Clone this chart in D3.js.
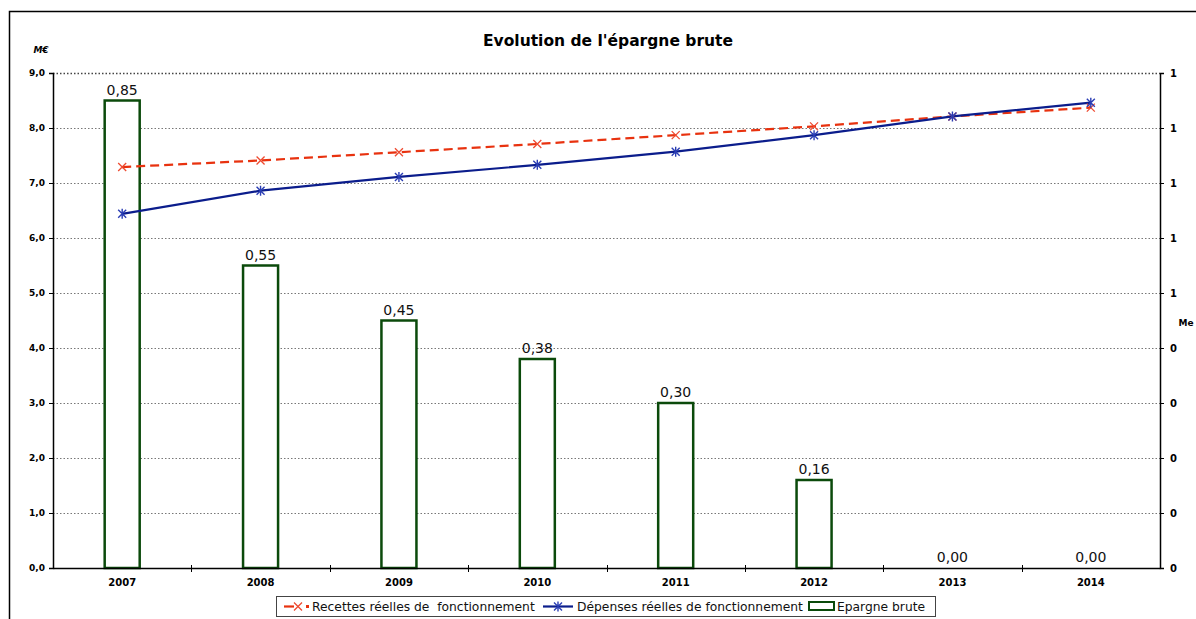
<!DOCTYPE html>
<html>
<head>
<meta charset="utf-8">
<script src="https://cdn.jsdelivr.net/npm/d3@7"></script>
<style>
  html, body { margin: 0; padding: 0; background: #fff; }
  svg { display: block; }
</style>
</head>
<body>
<div id="chart"></div>
<script>
// Data
const years = ["2007", "2008", "2009", "2010", "2011", "2012", "2013", "2014"]
const recettes = [7.29, 7.41, 7.56, 7.71, 7.87, 8.03, 8.21, 8.37]
const depenses = [6.44, 6.86, 7.11, 7.33, 7.57, 7.87, 8.21, 8.46]
const epargne = [0.85, 0.55, 0.45, 0.38, 0.30, 0.16, 0.00, 0.00]
const leftTicks = [0, 1, 2, 3, 4, 5, 6, 7, 8, 9]
const rightTicks = [0, 0.1, 0.2, 0.3, 0.4, 0.5, 0.6, 0.7, 0.8, 0.9]

const W = 1196, H = 619
const plot = { left: 53, right: 1160, top: 73, bottom: 568 }
const colors = {
  red: "#e8320f", redMarker: "#ee4a30",
  blue: "#0b1d8c", blueMarker: "#2a3db4",
  green: "#0b4a0b", grid: "#777", text: "#000"
}

const svg = d3.select("#chart").append("svg").attr("width", W).attr("height", H)

// outer frame (runs off right/bottom edge)
svg.append("path")
  .attr("d", `M9.5,${H + 5} V11.5 H${W + 5}`)
  .attr("fill", "none").attr("stroke", "#000").attr("stroke-width", 1.5)

// scales
const x = d3.scaleBand().domain(years).range([plot.left, plot.right]).padding(0)
const yL = d3.scaleLinear().domain([0, 9]).range([plot.bottom, plot.top])
const yR = d3.scaleLinear().domain([0, 0.9]).range([plot.bottom, plot.top])
const fmtFr = (v, n) => v.toFixed(n).replace(".", ",")

// gridlines
svg.append("g").selectAll("line")
  .data(leftTicks.filter(d => d > 0))
  .join("line")
  .attr("x1", plot.left).attr("x2", plot.right)
  .attr("y1", d => Math.round(yL(d)) + 0.5).attr("y2", d => Math.round(yL(d)) + 0.5)
  .attr("stroke", d => d === 9 ? "#444" : colors.grid)
  .attr("stroke-width", d => d === 9 ? 1.3 : 1)
  .attr("stroke-dasharray", "1.5,2")

// left axis
const axL = svg.append("g").attr("transform", `translate(${plot.left},0)`)
  .call(d3.axisLeft(yL).tickValues(leftTicks).tickSize(4).tickPadding(4).tickFormat(d => fmtFr(d, 1)))
axL.select(".domain").attr("stroke", "#000").attr("stroke-width", 1.5)
axL.selectAll("text").attr("font-family", "DejaVu Sans").attr("font-weight", "bold")
  .attr("font-size", 9).attr("fill", colors.text)

// right axis
const axR = svg.append("g").attr("transform", `translate(${plot.right},0)`)
  .call(d3.axisRight(yR).tickValues(rightTicks).tickSize(4).tickPadding(6).tickFormat(d3.format(".0f")))
axR.select(".domain").attr("stroke", "#000").attr("stroke-width", 1.5)
axR.selectAll("text").attr("font-family", "DejaVu Sans").attr("font-weight", "bold")
  .attr("font-size", 10).attr("fill", colors.text)

// bars (right axis)
const barW = x.bandwidth() * 0.253
svg.append("g").selectAll("rect")
  .data(years.map((y, i) => ({ y, v: epargne[i] })))
  .join("rect")
  .attr("x", d => x(d.y) + x.bandwidth() / 2 - barW / 2)
  .attr("y", d => yR(d.v))
  .attr("width", barW)
  .attr("height", d => plot.bottom - yR(d.v))
  .attr("fill", "#fff")
  .attr("stroke", colors.green)
  .attr("stroke-width", d => d.v > 0 ? 2.5 : 0)

// bottom axis
const axB = svg.append("g").attr("transform", `translate(0,${plot.bottom})`)
  .call(d3.axisBottom(x).tickSize(0).tickPadding(11))
axB.select(".domain").attr("stroke", "#000").attr("stroke-width", 1.5)
axB.selectAll("text").attr("font-family", "DejaVu Sans").attr("font-weight", "bold")
  .attr("font-size", 10).attr("fill", colors.text)
axB.selectAll("line.sep")
  .data(years.slice(1))
  .join("line").attr("class", "sep")
  .attr("x1", d => Math.round(x(d)) + 0.5).attr("x2", d => Math.round(x(d)) + 0.5)
  .attr("y1", -3).attr("y2", 4).attr("stroke", "#000")

// bar value labels
svg.append("g").selectAll("text")
  .data(years.map((y, i) => ({ y, v: epargne[i] })))
  .join("text")
  .attr("x", d => x(d.y) + x.bandwidth() / 2)
  .attr("y", d => yR(d.v) - 6)
  .attr("text-anchor", "middle")
  .attr("font-family", "DejaVu Sans").attr("font-size", 14).attr("fill", "#111")
  .text(d => fmtFr(d.v, 2))

// lines (left axis)
const cx = d => x(d) + x.bandwidth() / 2
const line = d3.line().x(d => cx(d.y)).y(d => yL(d.v))
const recData = years.map((y, i) => ({ y, v: recettes[i] }))
const depData = years.map((y, i) => ({ y, v: depenses[i] }))

svg.append("path").datum(recData).attr("d", line)
  .attr("fill", "none").attr("stroke", colors.red).attr("stroke-width", 2.2)
  .attr("stroke-dasharray", "9,5")
svg.append("path").datum(depData).attr("d", line)
  .attr("fill", "none").attr("stroke", colors.blue).attr("stroke-width", 2.2)

function crossPath(px, py, s) {
  return `M${px - s},${py - s}L${px + s},${py + s}M${px - s},${py + s}L${px + s},${py - s}`
}
function starPath(px, py, s) {
  return crossPath(px, py, s) + `M${px},${py - s - 1}L${px},${py + s + 1}`
}

svg.append("g").selectAll("path")
  .data(recData).join("path")
  .attr("d", d => crossPath(cx(d.y), yL(d.v), 4))
  .attr("stroke", colors.redMarker).attr("stroke-width", 1.3).attr("fill", "none")
svg.append("g").selectAll("path")
  .data(depData).join("path")
  .attr("d", d => starPath(cx(d.y), yL(d.v), 4))
  .attr("stroke", colors.blueMarker).attr("stroke-width", 1.4).attr("fill", "none")

// axis unit labels
svg.append("text").attr("x", 41).attr("y", 53).attr("text-anchor", "middle")
  .attr("font-family", "DejaVu Sans").attr("font-weight", "bold").attr("font-style", "italic")
  .attr("font-size", 9).text("M€")
svg.append("text").attr("x", 1186).attr("y", 326).attr("text-anchor", "middle")
  .attr("font-family", "DejaVu Sans").attr("font-weight", "bold")
  .attr("font-size", 9).text("Me")

// title
svg.append("text").attr("x", 608).attr("y", 46).attr("text-anchor", "middle")
  .attr("font-family", "DejaVu Sans").attr("font-weight", "bold").attr("font-size", 15.5)
  .text("Evolution de l'épargne brute")

// legend
const lg = svg.append("g")
lg.append("rect").attr("x", 276.5).attr("y", 596.5).attr("width", 659).attr("height", 20)
  .attr("fill", "#fff").attr("stroke", "#444").attr("stroke-width", 1)
const ly = 606.5
lg.append("line").attr("x1", 284).attr("x2", 294).attr("y1", ly).attr("y2", ly)
  .attr("stroke", colors.red).attr("stroke-width", 2.2)
lg.append("path").attr("d", crossPath(298, ly, 4)).attr("stroke", colors.redMarker).attr("stroke-width", 1.3)
lg.append("rect").attr("x", 306).attr("y", ly - 1.5).attr("width", 3).attr("height", 3).attr("fill", colors.red)
lg.append("line").attr("x1", 543).attr("x2", 573).attr("y1", ly).attr("y2", ly)
  .attr("stroke", colors.blue).attr("stroke-width", 2.2)
lg.append("path").attr("d", starPath(558, ly, 4)).attr("stroke", colors.blueMarker).attr("stroke-width", 1.4)
lg.append("rect").attr("x", 809).attr("y", 602).attr("width", 25).attr("height", 8)
  .attr("fill", "#fff").attr("stroke", colors.green).attr("stroke-width", 2)
const legendText = [
  { x: 312, t: "Recettes réelles de\u00a0 fonctionnement" },
  { x: 577, t: "Dépenses réelles de fonctionnement" },
  { x: 837, t: "Epargne brute" }
]
lg.selectAll("text.lt").data(legendText).join("text").attr("class", "lt")
  .attr("x", d => d.x).attr("y", 611)
  .attr("font-family", "DejaVu Sans").attr("font-size", 12.3).attr("fill", "#111")
  .text(d => d.t)
</script>
</body>
</html>
